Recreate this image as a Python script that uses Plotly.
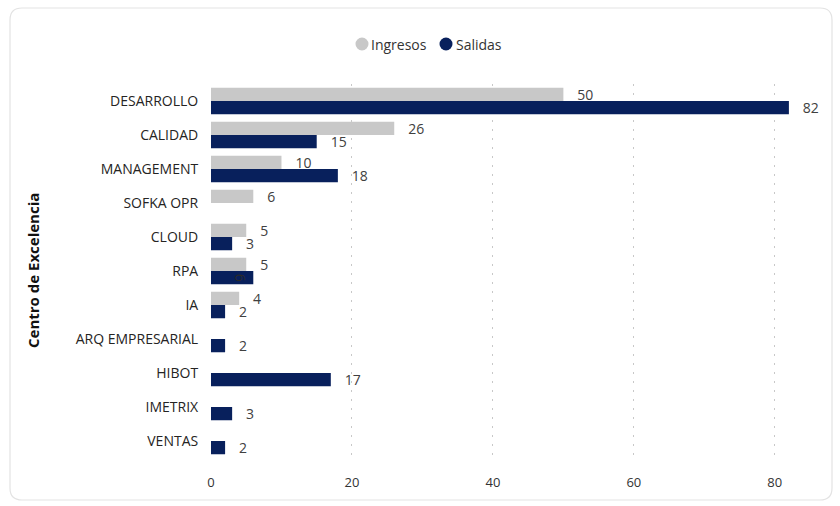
import plotly.graph_objects as go

categories = ["DESARROLLO", "CALIDAD", "MANAGEMENT", "SOFKA OPR", "CLOUD", "RPA", "IA",
              "ARQ EMPRESARIAL", "HIBOT", "IMETRIX", "VENTAS"]
ingresos = [50, 26, 10, 6, 5, 5, 4, None, None, None, None]
salidas = [82, 15, 18, None, 3, 6, 2, 2, 17, 3, 2]
x_ticks = [0, 20, 40, 60, 80]
series_names = ["Ingresos", "Salidas"]

GRAY = "#c8c8c8"
NAVY = "#08205c"
FONT = "Open Sans"
LABEL = "#404040"

# plot area geometry (pixels)
W, H = 840, 506
L, R, T, B = 211, 37, 84, 48
PW, PH = W - L - R, H - T - B

def px(x):
    return (x - L) / PW

def py(y):
    return (H - B - y) / PH

fig = go.Figure()
# Ingresos: all labels outside
fig.add_trace(go.Bar(
    y=categories, x=ingresos, name=series_names[0], orientation="h",
    marker=dict(color=GRAY, line=dict(width=0)),
    texttemplate="\u00a0\u00a0\u00a0%{x}", textposition="outside", constraintext="none",
    textfont=dict(size=14, color=LABEL, family=FONT), cliponaxis=False,
    showlegend=False))
# Salidas: the RPA label sits over the bar end, as in the reference
sal_pos = ["inside" if c == "RPA" else "outside" for c in categories]
sal_tmpl = ["%{x}" if c == "RPA" else "\u00a0\u00a0\u00a0%{x}" for c in categories]
fig.add_trace(go.Bar(
    y=categories, x=salidas, name=series_names[1], orientation="h",
    marker=dict(color=NAVY, line=dict(width=0)),
    texttemplate=sal_tmpl, textposition=sal_pos, constraintext="none",
    insidetextanchor="end",
    insidetextfont=dict(size=14, color="#2a2a2a", family=FONT),
    outsidetextfont=dict(size=14, color=LABEL, family=FONT),
    cliponaxis=False, showlegend=False))

# legend: circle shapes + text labels
legend_items = [(series_names[0], GRAY, 362, 370), (series_names[1], NAVY, 446, 455)]
for nm, col, cx, tx in legend_items:
    fig.add_shape(type="circle", xref="paper", yref="paper",
                  xsizemode="pixel", ysizemode="pixel",
                  xanchor=px(cx), yanchor=py(44), x0=-6.5, x1=6.5, y0=-6.5, y1=6.5,
                  fillcolor=col, line=dict(width=0))
    fig.add_annotation(text=nm, xref="paper", yref="paper", x=px(tx - 1), y=py(44),
                       xanchor="left", yanchor="middle", showarrow=False,
                       font=dict(size=14, color="#333333", family=FONT))

# rounded card border
x0, y0, x1, y1, r = 10, 8, 832, 500, 12
path = (f"M {px(x0 + r)} {py(y0)} L {px(x1 - r)} {py(y0)} "
        f"Q {px(x1)} {py(y0)} {px(x1)} {py(y0 + r)} L {px(x1)} {py(y1 - r)} "
        f"Q {px(x1)} {py(y1)} {px(x1 - r)} {py(y1)} L {px(x0 + r)} {py(y1)} "
        f"Q {px(x0)} {py(y1)} {px(x0)} {py(y1 - r)} L {px(x0)} {py(y0 + r)} "
        f"Q {px(x0)} {py(y0)} {px(x0 + r)} {py(y0)} Z")
fig.add_shape(type="path", path=path, xref="paper", yref="paper",
              line=dict(color="#e3e3e3", width=1.2), layer="below")

fig.add_annotation(text="<b>Centro de Excelencia</b>", xref="paper", yref="paper",
                   x=px(33), y=py(271), xanchor="center", yanchor="middle",
                   textangle=-90, showarrow=False,
                   font=dict(size=15, color="#111111", family=FONT))

fig.update_layout(
    width=W, height=H,
    margin=dict(l=L, r=R, t=T, b=B, autoexpand=False),
    paper_bgcolor="white", plot_bgcolor="white",
    barmode="group", bargap=0.22, bargroupgap=0.0,
    font=dict(family=FONT, color="#333333"),
    showlegend=False,
    xaxis=dict(range=[0, 84], tickvals=x_ticks, showgrid=True, gridcolor="#c8c8c8",
               griddash="2px,7px", gridwidth=1, zeroline=False, showline=False,
               ticks="outside", ticklen=12, tickcolor="rgba(0,0,0,0)",
               tickfont=dict(size=13, color="#333333", family=FONT), fixedrange=True),
    yaxis=dict(categoryorder="array", categoryarray=categories, autorange="reversed",
               showgrid=False, zeroline=False, showline=False,
               ticks="outside", ticklen=9, tickcolor="rgba(0,0,0,0)",
               tickfont=dict(size=14, color="#252423", family=FONT)),
)

fig.write_html("out.html", config={"displayModeBar": False},
               post_script="document.body.style.margin='0';")
